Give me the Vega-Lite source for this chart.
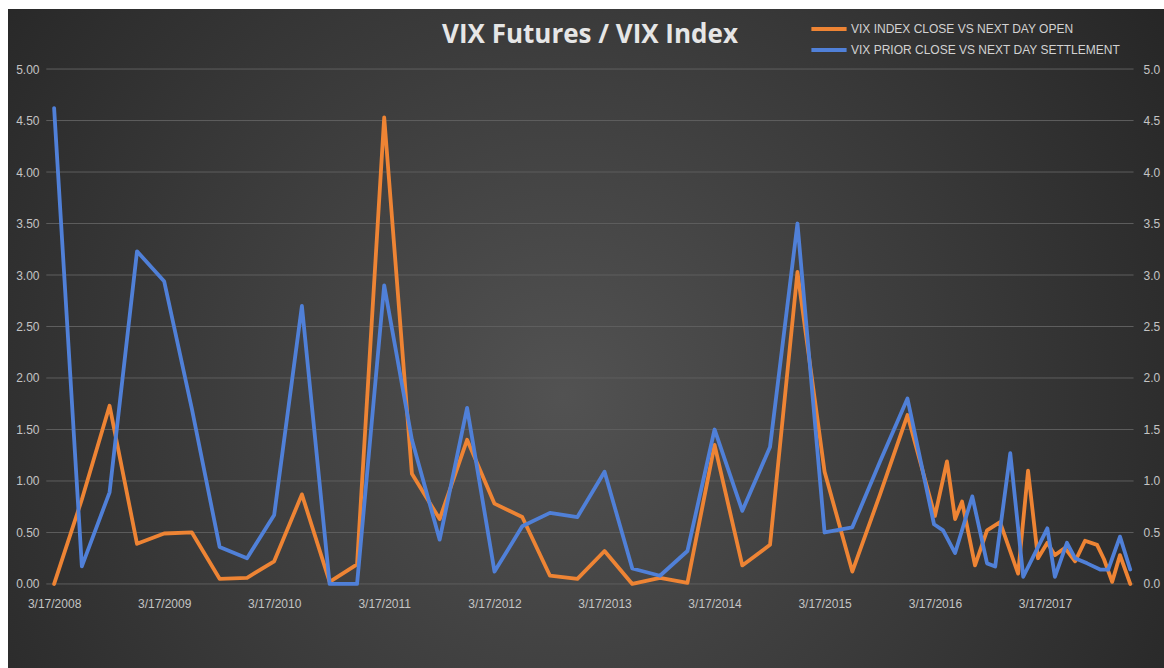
{
  "$schema": "https://vega.github.io/schema/vega-lite/v6.json",
  "width": 1156,
  "height": 659,
  "autosize": {"type": "none"},
  "padding": {"left": 8, "top": 9, "right": 0, "bottom": 0},
  "background": "#ffffff",
  "config": {
    "view": {
      "stroke": null,
      "fill": {
        "gradient": "radial",
        "x1": 0.48, "y1": 0.55, "r1": 0,
        "x2": 0.48, "y2": 0.55, "r2": 0.75,
        "stops": [
          {"offset": 0, "color": "#525252"},
          {"offset": 1, "color": "#1d1d1d"}
        ]
      }
    },
    "axis": {
      "labelFont": "Liberation Sans",
      "labelColor": "#c4c4c4",
      "labelFontSize": 12,
      "domain": false,
      "ticks": false,
      "grid": false,
      "title": null
    }
  },
  "title": {
    "text": "VIX Futures / VIX Index",
    "font": "Open Sans",
    "fontSize": 26,
    "fontWeight": "bold",
    "color": "#e6e6e6",
    "anchor": "middle",
    "orient": "top",
    "frame": "group",
    "offset": -60,
    "baseline": "alphabetic",
    "dx": 4
  },
  "datasets": {
    "grid": [
      {"g": 0}, {"g": 0.5}, {"g": 1}, {"g": 1.5}, {"g": 2}, {"g": 2.5},
      {"g": 3}, {"g": 3.5}, {"g": 4}, {"g": 4.5}, {"g": 5}
    ],
    "series": [
      {"d": "2008-03-17", "s": "O", "v": 0.00},
      {"d": "2008-06-17", "s": "O", "v": 0.82},
      {"d": "2008-09-17", "s": "O", "v": 1.73},
      {"d": "2008-12-17", "s": "O", "v": 0.39},
      {"d": "2009-03-17", "s": "O", "v": 0.49},
      {"d": "2009-06-17", "s": "O", "v": 0.50},
      {"d": "2009-09-17", "s": "O", "v": 0.05},
      {"d": "2009-12-17", "s": "O", "v": 0.06},
      {"d": "2010-03-17", "s": "O", "v": 0.22},
      {"d": "2010-06-17", "s": "O", "v": 0.87},
      {"d": "2010-09-17", "s": "O", "v": 0.02},
      {"d": "2010-12-17", "s": "O", "v": 0.19},
      {"d": "2011-03-17", "s": "O", "v": 4.53},
      {"d": "2011-06-17", "s": "O", "v": 1.07},
      {"d": "2011-09-17", "s": "O", "v": 0.63},
      {"d": "2011-12-17", "s": "O", "v": 1.40},
      {"d": "2012-03-17", "s": "O", "v": 0.78},
      {"d": "2012-06-17", "s": "O", "v": 0.65},
      {"d": "2012-09-17", "s": "O", "v": 0.08},
      {"d": "2012-12-17", "s": "O", "v": 0.05},
      {"d": "2013-03-17", "s": "O", "v": 0.32},
      {"d": "2013-06-17", "s": "O", "v": 0.00},
      {"d": "2013-09-17", "s": "O", "v": 0.06},
      {"d": "2013-12-17", "s": "O", "v": 0.01},
      {"d": "2014-03-17", "s": "O", "v": 1.35},
      {"d": "2014-06-17", "s": "O", "v": 0.18},
      {"d": "2014-09-17", "s": "O", "v": 0.38},
      {"d": "2014-12-17", "s": "O", "v": 3.03},
      {"d": "2015-03-17", "s": "O", "v": 1.09},
      {"d": "2015-06-17", "s": "O", "v": 0.12},
      {"d": "2015-09-17", "s": "O", "v": 0.87},
      {"d": "2015-12-17", "s": "O", "v": 1.64},
      {"d": "2016-03-17", "s": "O", "v": 0.66},
      {"d": "2016-04-26", "s": "O", "v": 1.19},
      {"d": "2016-05-23", "s": "O", "v": 0.63},
      {"d": "2016-06-15", "s": "O", "v": 0.80},
      {"d": "2016-07-28", "s": "O", "v": 0.18},
      {"d": "2016-09-06", "s": "O", "v": 0.52},
      {"d": "2016-10-19", "s": "O", "v": 0.60},
      {"d": "2016-12-18", "s": "O", "v": 0.10},
      {"d": "2017-01-20", "s": "O", "v": 1.10},
      {"d": "2017-02-22", "s": "O", "v": 0.25},
      {"d": "2017-03-25", "s": "O", "v": 0.40},
      {"d": "2017-04-19", "s": "O", "v": 0.28},
      {"d": "2017-05-22", "s": "O", "v": 0.35},
      {"d": "2017-06-25", "s": "O", "v": 0.22},
      {"d": "2017-07-28", "s": "O", "v": 0.42},
      {"d": "2017-09-06", "s": "O", "v": 0.38},
      {"d": "2017-09-29", "s": "O", "v": 0.24},
      {"d": "2017-10-26", "s": "O", "v": 0.02},
      {"d": "2017-11-21", "s": "O", "v": 0.28},
      {"d": "2017-12-25", "s": "O", "v": 0.00},
      {"d": "2008-03-17", "s": "B", "v": 4.62},
      {"d": "2008-06-17", "s": "B", "v": 0.17},
      {"d": "2008-09-17", "s": "B", "v": 0.89},
      {"d": "2008-12-17", "s": "B", "v": 3.23},
      {"d": "2009-03-17", "s": "B", "v": 2.94},
      {"d": "2009-06-17", "s": "B", "v": 1.70},
      {"d": "2009-09-17", "s": "B", "v": 0.36},
      {"d": "2009-12-17", "s": "B", "v": 0.25},
      {"d": "2010-03-17", "s": "B", "v": 0.67},
      {"d": "2010-06-17", "s": "B", "v": 2.70},
      {"d": "2010-09-17", "s": "B", "v": 0.00},
      {"d": "2010-12-17", "s": "B", "v": 0.00},
      {"d": "2011-03-17", "s": "B", "v": 2.90},
      {"d": "2011-06-17", "s": "B", "v": 1.40},
      {"d": "2011-09-17", "s": "B", "v": 0.43},
      {"d": "2011-12-17", "s": "B", "v": 1.71},
      {"d": "2012-03-17", "s": "B", "v": 0.12},
      {"d": "2012-06-17", "s": "B", "v": 0.56},
      {"d": "2012-09-17", "s": "B", "v": 0.69},
      {"d": "2012-12-17", "s": "B", "v": 0.65},
      {"d": "2013-03-17", "s": "B", "v": 1.09},
      {"d": "2013-06-17", "s": "B", "v": 0.15},
      {"d": "2013-09-17", "s": "B", "v": 0.08},
      {"d": "2013-12-17", "s": "B", "v": 0.32},
      {"d": "2014-03-17", "s": "B", "v": 1.50},
      {"d": "2014-06-17", "s": "B", "v": 0.71},
      {"d": "2014-09-17", "s": "B", "v": 1.33},
      {"d": "2014-12-17", "s": "B", "v": 3.50},
      {"d": "2015-03-17", "s": "B", "v": 0.50},
      {"d": "2015-06-17", "s": "B", "v": 0.55},
      {"d": "2015-09-17", "s": "B", "v": 1.19},
      {"d": "2015-12-17", "s": "B", "v": 1.80},
      {"d": "2016-03-14", "s": "B", "v": 0.58},
      {"d": "2016-04-13", "s": "B", "v": 0.52},
      {"d": "2016-05-23", "s": "B", "v": 0.30},
      {"d": "2016-07-19", "s": "B", "v": 0.85},
      {"d": "2016-09-06", "s": "B", "v": 0.20},
      {"d": "2016-10-03", "s": "B", "v": 0.17},
      {"d": "2016-11-22", "s": "B", "v": 1.27},
      {"d": "2017-01-04", "s": "B", "v": 0.07},
      {"d": "2017-03-25", "s": "B", "v": 0.54},
      {"d": "2017-04-19", "s": "B", "v": 0.07},
      {"d": "2017-05-29", "s": "B", "v": 0.40},
      {"d": "2017-06-25", "s": "B", "v": 0.25},
      {"d": "2017-08-04", "s": "B", "v": 0.20},
      {"d": "2017-09-16", "s": "B", "v": 0.14},
      {"d": "2017-10-13", "s": "B", "v": 0.14},
      {"d": "2017-11-21", "s": "B", "v": 0.46},
      {"d": "2017-12-25", "s": "B", "v": 0.14}
    ]
  },
  "layer": [
    {
      "data": {"name": "grid"},
      "mark": {"type": "rule", "color": "#5e5e5e", "strokeWidth": 1},
      "encoding": {
        "y": {
          "field": "g",
          "type": "quantitative",
          "scale": {"domain": [-0.816, 5.583], "nice": false, "zero": false},
          "axis": {
            "orient": "right",
            "offset": -27,
            "values": [0, 0.5, 1, 1.5, 2, 2.5, 3, 3.5, 4, 4.5, 5],
            "format": ".1f",
            "labelAlign": "left",
            "labelPadding": 6
          }
        },
        "x": {
          "datum": {"year": 2008, "month": 2, "date": 20, "utc": true},
          "type": "temporal",
          "scale": {
            "type": "utc",
            "nice": false,
            "domain": [
              {"year": 2007, "month": 10, "date": 16, "utc": true},
              {"year": 2018, "month": 4, "date": 16, "utc": true}
            ]
          },
          "axis": {
            "orient": "bottom",
            "offset": -76,
            "values": [
              {"year": 2008, "month": 3, "date": 17, "utc": true},
              {"year": 2009, "month": 3, "date": 17, "utc": true},
              {"year": 2010, "month": 3, "date": 17, "utc": true},
              {"year": 2011, "month": 3, "date": 17, "utc": true},
              {"year": 2012, "month": 3, "date": 17, "utc": true},
              {"year": 2013, "month": 3, "date": 17, "utc": true},
              {"year": 2014, "month": 3, "date": 17, "utc": true},
              {"year": 2015, "month": 3, "date": 17, "utc": true},
              {"year": 2016, "month": 3, "date": 17, "utc": true},
              {"year": 2017, "month": 3, "date": 17, "utc": true}
            ],
            "labelExpr": "utcFormat(datum.value, '%-m/%-d/%Y')",
            "labelPadding": 6,
            "labelOverlap": false,
            "labelFlush": false,
            "labelBound": false
          }
        },
        "x2": {"datum": {"year": 2018, "month": 1, "date": 5, "utc": true}}
      }
    },
    {
      "data": {"name": "series"},
      "mark": {"type": "line", "strokeWidth": 3.8, "strokeJoin": "round", "strokeCap": "round"},
      "encoding": {
        "x": {
          "field": "d",
          "type": "temporal",
          "scale": {
            "type": "utc",
            "nice": false,
            "domain": [
              {"year": 2007, "month": 10, "date": 16, "utc": true},
              {"year": 2018, "month": 4, "date": 16, "utc": true}
            ]
          },
          "axis": {
            "orient": "bottom",
            "offset": -76,
            "values": [
              {"year": 2008, "month": 3, "date": 17, "utc": true},
              {"year": 2009, "month": 3, "date": 17, "utc": true},
              {"year": 2010, "month": 3, "date": 17, "utc": true},
              {"year": 2011, "month": 3, "date": 17, "utc": true},
              {"year": 2012, "month": 3, "date": 17, "utc": true},
              {"year": 2013, "month": 3, "date": 17, "utc": true},
              {"year": 2014, "month": 3, "date": 17, "utc": true},
              {"year": 2015, "month": 3, "date": 17, "utc": true},
              {"year": 2016, "month": 3, "date": 17, "utc": true},
              {"year": 2017, "month": 3, "date": 17, "utc": true}
            ],
            "labelExpr": "utcFormat(datum.value, '%-m/%-d/%Y')",
            "labelPadding": 6,
            "labelOverlap": false,
            "labelFlush": false,
            "labelBound": false
          }
        },
        "y": {
          "field": "v",
          "type": "quantitative",
          "scale": {"domain": [-0.816, 5.583], "nice": false, "zero": false},
          "axis": {
            "orient": "left",
            "offset": -39,
            "values": [0, 0.5, 1, 1.5, 2, 2.5, 3, 3.5, 4, 4.5, 5],
            "format": ".2f",
            "labelPadding": 8
          }
        },
        "color": {
          "field": "s",
          "type": "nominal",
          "sort": ["O", "B"],
          "scale": {"domain": ["O", "B"], "range": ["#EE8434", "#5080D8"]},
          "legend": {
            "orient": "none",
            "legendX": 808,
            "legendY": 7,
            "title": null,
            "padding": 0,
            "rowPadding": 0,
            "symbolType": "M-1.6,0H1.6",
            "symbolSize": 484,
            "symbolStrokeWidth": 4,
            "symbolFillColor": "transparent",
            "labelOffset": 9,
            "labelFont": "Liberation Sans",
            "labelFontSize": 12,
            "labelColor": "#d2d2d2",
            "labelLimit": 400,
            "labelExpr": "datum.label == 'O' ? 'VIX INDEX CLOSE VS NEXT DAY OPEN' : 'VIX PRIOR CLOSE VS NEXT DAY SETTLEMENT'"
          }
        }
      }
    }
  ],
  "resolve": {"axis": {"y": "independent"}}
}
